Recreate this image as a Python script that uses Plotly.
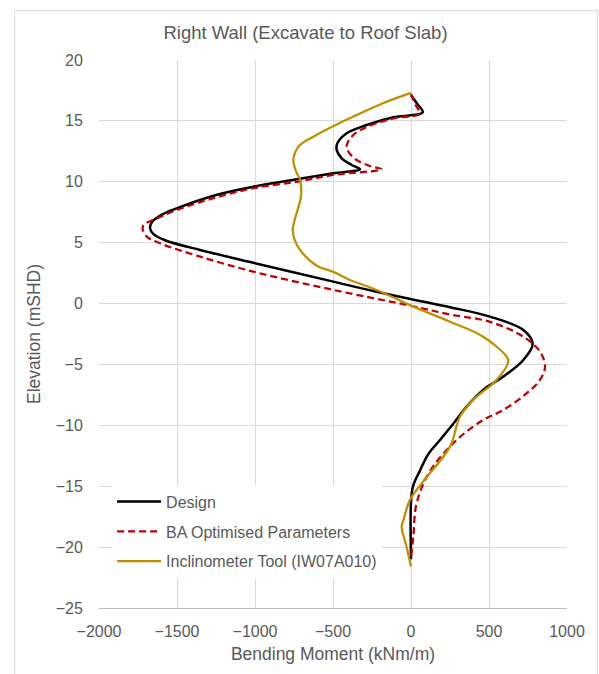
import plotly.graph_objects as go

# Design
design_x = [0, 40, 75, -113, -284, -412, -472, -476, -444, -380, -327,
            -498, -733, -1011, -1249, -1502, -1596, -1660, -1673, -1650, -1577, -1352,
            -1011, -498, -250, 4, 250, 506, 720, 780, 720, 592, 463, 357,
            263, 186, 109, 58, 13, 0, 0]
design_y = [17.1, 16.4, 15.7, 15.3, 14.66, 13.98, 13.16, 12.6, 11.93, 11.38, 11.03,
            10.7, 10.2, 9.6, 8.92, 7.82, 7.3, 6.7, 6.2, 5.7, 5.2, 4.4,
            3.35, 1.8, 1.05, 0.35, -0.3, -1.07, -2.17, -3.3, -4.63, -6.0, -7.09, -8.46,
            -10.0, -11.2, -12.4, -13.7, -15.0, -16.3, -21.0]

# BA Optimised Parameters
ba_x = [0, 30, 55, -113, -284, -370, -412, -401, -348, -263, -188,
        -498, -733, -1011, -1267, -1502, -1652, -1712, -1720, -1694, -1609, -1352,
        -1011, -498, 4, 250, 506, 720, 827, 859, 827, 742, 592, 463,
        293, 120, 36, 15, 0]
ba_y = [17.2, 16.3, 15.6, 15.2, 14.5, 13.84, 13.0, 12.47, 11.79, 11.3, 11.03,
        10.56, 10.0, 9.47, 8.65, 7.68, 6.86, 6.5, 6.1, 5.5, 4.95, 3.85,
        2.62, 1.12, -0.2, -0.9, -1.5, -2.72, -3.95, -5.18, -6.27, -7.36, -8.74, -9.56,
        -11.2, -13.8, -16.4, -19.1, -20.9]

# Inclinometer Tool (IW07A010)
inc_x = [0, -180, -327, -460, -626, -720, -754, -735, -711, -705, -720, -745,
         -758, -745, -711, -604, -498, -391, -220, 15, 250, 463, 613, 624,
         549, 399, 314, 250, 79, -6, -49, -60, -28, 0]
inc_y = [17.3, 16.45, 15.6, 14.8, 13.7, 12.9, 11.8, 10.8, 10.15, 8.8, 8.0, 6.9,
         6.04, 5.2, 4.4, 3.1, 2.6, 1.94, 1.12, -0.25, -1.49, -2.72, -4.36, -4.77,
         -6.27, -7.91, -9.29, -11.75, -14.6, -16.1, -17.8, -18.3, -20.0, -21.6]

x_ticks = [-2000, -1500, -1000, -500, 0, 500, 1000]
y_ticks = [-25, -20, -15, -10, -5, 0, 5, 10, 15, 20]

grey = "#595959"
fig = go.Figure()
fig.add_trace(go.Scatter(x=design_x, y=design_y, mode="lines", name="Design", legendgroup="a",
                         line=dict(color="black", width=2.5, shape="spline", smoothing=1.0)))
fig.add_trace(go.Scatter(x=ba_x, y=ba_y, mode="lines", name="BA Optimised Parameters", legendgroup="b",
                         line=dict(color="#C00000", width=2.25, dash="7px,4px", shape="spline", smoothing=1.0)))
fig.add_trace(go.Scatter(x=inc_x, y=inc_y, mode="lines", name="Inclinometer Tool (IW07A010)", legendgroup="c",
                         line=dict(color="#BF8F00", width=2.25, shape="spline", smoothing=1.0)))

fig.update_layout(
    width=599, height=674,
    margin=dict(l=99, r=32, t=60, b=66),
    paper_bgcolor="white", plot_bgcolor="white",
    font=dict(family="Liberation Sans, Arial, sans-serif", color=grey, size=16),
    title=dict(text="Right Wall (Excavate to Roof Slab)", x=305.5/599, xanchor="center",
               y=1 - 33/674, yanchor="middle", font=dict(size=18.5, color=grey)),
    showlegend=True,
    legend=dict(x=0.028, y=0.225, xanchor="left", yanchor="top", bgcolor="white",
                font=dict(size=16, color=grey), tracegroupgap=6, traceorder="grouped",
                itemwidth=44),
    shapes=[dict(type="rect", xref="paper", yref="paper", x0=-0.18, x1=1.065,
                 y0=-0.13, y1=1.0905, line=dict(color="#d9d9d9", width=1), layer="below")],
)
fig.update_xaxes(range=[-2000, 1000], tickvals=x_ticks, showgrid=True, gridcolor="#d9d9d9",
                 zeroline=False, showline=True, linecolor="#bfbfbf",
                 ticks="outside", ticklen=9, tickcolor="rgba(0,0,0,0)",
                 title=dict(text="Bending Moment (kNm/m)", font=dict(size=17.5, color=grey), standoff=8),
                 tickfont=dict(size=16, color=grey))
fig.update_yaxes(range=[-25, 20], tickvals=y_ticks, showgrid=True, gridcolor="#d9d9d9",
                 zeroline=False, showline=False,
                 ticks="outside", ticklen=12, tickcolor="rgba(0,0,0,0)",
                 title=dict(text="Elevation (mSHD)", font=dict(size=17.5, color=grey), standoff=10),
                 tickfont=dict(size=16, color=grey))

fig.write_html("out.html")
